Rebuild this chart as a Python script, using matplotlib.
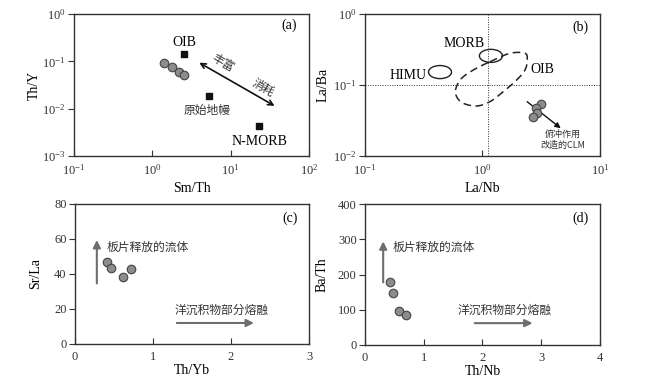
import numpy as np
import matplotlib
matplotlib.use("Agg")
import matplotlib.pyplot as plt
from matplotlib.patches import Ellipse

plt.rcParams['font.family'] = ['Liberation Serif', 'DejaVu Serif']
plt.rcParams['mathtext.fontset'] = 'stix'
CJK = ['Noto Sans CJK SC', 'DejaVu Sans']

# panel (a): Sm/Th vs Th/Y
a_smth = [1.41, 1.79, 2.19, 2.54]
a_thy = [0.092, 0.076, 0.059, 0.051]
a_ref_names = ['OIB', '原始地幔', 'N-MORB']
a_ref_x = [2.54, 5.3, 23.0]
a_ref_y = [0.143, 0.0185, 0.0043]

# panel (b): La/Nb vs La/Ba
b_lanb = [3.15, 2.85, 2.91, 2.69]
b_laba = [0.054, 0.047, 0.040, 0.035]
# OIB field outline (log10 coordinates)
oib_logx = [0.064, 0.234, 0.362, 0.381, 0.362, 0.291, 0.177, 0.064, -0.049,
            -0.163, -0.220, -0.226, -0.177, -0.078]
oib_logy = [-0.672, -0.554, -0.554, -0.648, -0.789, -0.930, -1.094, -1.235,
            -1.296, -1.258, -1.165, -1.046, -0.906, -0.789]
himu_center = (0.435, 0.152)
morb_center = (1.18, 0.257)

# panel (c): Th/Yb vs Sr/La
c_thyb = [0.41, 0.46, 0.615, 0.72]
c_srla = [46.9, 43.4, 38.3, 42.9]

# panel (d): Th/Nb vs Ba/Th
d_thnb = [0.43, 0.48, 0.58, 0.70]
d_bath = [179, 148, 96, 85]

fig = plt.figure(figsize=(6.47, 3.84), dpi=100)
ax_a = fig.add_axes([0.1144, 0.5938, 0.3632, 0.3698])
ax_b = fig.add_axes([0.5641, 0.5938, 0.3632, 0.3698])
ax_c = fig.add_axes([0.1159, 0.1042, 0.3617, 0.3646])
ax_d = fig.add_axes([0.5641, 0.1016, 0.3632, 0.3670])

edge = '#333333'
pt_kw = dict(s=38, facecolor='#8c8c8c', edgecolor='#444444', linewidths=0.8, zorder=5)


def style(ax, ylab_x):
    for sp in ax.spines.values():
        sp.set_color(edge)
        sp.set_linewidth(1.0)
    ax.tick_params(axis='x', direction='in', length=4, width=0.8, colors=edge,
                   labelsize=9, pad=5)
    ax.tick_params(axis='y', direction='out', length=4, width=0.8, colors=edge,
                   labelsize=9, pad=2)
    ax.tick_params(which='minor', length=0)
    for lab in ax.get_xticklabels() + ax.get_yticklabels():
        lab.set_color('#333333')
    ax.yaxis.set_label_coords(ylab_x, 0.5)


def smooth_closed(xs, ys, n=12):
    # Catmull-Rom closed curve through outline points
    p = np.column_stack([xs, ys])
    m = len(p)
    out = []
    for i in range(m):
        p0, p1, p2, p3 = p[i - 1], p[i], p[(i + 1) % m], p[(i + 2) % m]
        for t in np.linspace(0, 1, n, endpoint=False):
            t2, t3 = t * t, t * t * t
            out.append(0.5 * ((2 * p1) + (-p0 + p2) * t + (2 * p0 - 5 * p1 + 4 * p2 - p3) * t2
                              + (-p0 + 3 * p1 - 3 * p2 + p3) * t3))
    out.append(out[0])
    out = np.array(out)
    return out[:, 0], out[:, 1]


# ---- (a)
ax = ax_a
ax.set_xscale('log')
ax.set_yscale('log')
ax.set_xlim(0.1, 100)
ax.set_ylim(0.001, 1)
ax.scatter(a_smth, a_thy, **pt_kw)
ax.scatter(a_ref_x, a_ref_y, marker='s', s=22, color='#111111', zorder=4)
ax.text(a_ref_x[0] * 1.02, a_ref_y[0] * 1.75, a_ref_names[0], ha='center', va='center', fontsize=10)
ax.text(a_ref_x[1] * 0.93, a_ref_y[1] * 0.5, a_ref_names[1], ha='center', va='center', fontsize=8.5,
        family=CJK, color='#333333')
ax.text(a_ref_x[2], a_ref_y[2] * 0.48, a_ref_names[2], ha='center', va='center', fontsize=10)
ax.annotate('', xy=(3.7, 0.10), xytext=(39, 0.0107),
            arrowprops=dict(arrowstyle='<->', color='#111111', lw=1.2,
                            mutation_scale=9))
ax.text(8.0, 0.092, '丰富', rotation=-30, ha='center', va='center', fontsize=8.5, family=CJK,
        color='#333333')
ax.text(26, 0.028, '消耗', rotation=-30, ha='center', va='center', fontsize=8.5, family=CJK,
        color='#333333')
ax.text(0.95, 0.92, '(a)', transform=ax.transAxes, ha='right', va='center', fontsize=10)
ax.set_xlabel('Sm/Th', fontsize=10, labelpad=3)
ax.set_ylabel('Th/Y', fontsize=10)
style(ax, -0.14)

# ---- (b)
ax = ax_b
ax.set_xscale('log')
ax.set_yscale('log')
ax.set_xlim(0.1, 10)
ax.set_ylim(0.01, 1)
ax.axvline(1.11, color='#333333', lw=0.7, ls=(0, (1, 1.5)))
ax.axhline(0.1, color='#333333', lw=0.7, ls=(0, (1, 1.5)))
ox, oy = smooth_closed(oib_logx, oib_logy)
ax.plot(10 ** ox, 10 ** oy, color='#222222', lw=1.1, ls=(0, (5, 3)))
# ellipses drawn in axes fraction with log positions
for (cx, cy) in [himu_center, morb_center]:
    fx = (np.log10(cx) + 1) / 2
    fy = (np.log10(cy) + 2) / 2
    ax.add_patch(Ellipse((fx, fy), 0.098, 0.092, transform=ax.transAxes, fill=False,
                         ec='#222222', lw=1.0))
ax.text(0.337, 0.138, 'HIMU', ha='right', va='center', fontsize=10)
ax.text(1.05, 0.39, 'MORB', ha='right', va='center', fontsize=10)
ax.text(3.2, 0.165, 'OIB', ha='center', va='center', fontsize=10)
ax.scatter(b_lanb, b_laba, **pt_kw)
ax.annotate('', xy=(4.84, 0.0232), xytext=(2.30, 0.0615),
            arrowprops=dict(arrowstyle='-|>', color='#111111', lw=1.0, mutation_scale=8))
ax.text(4.85, 0.0168, '俯冲作用\n改造的CLM', ha='center', va='center', fontsize=6.5, family=CJK,
        linespacing=1.25, color='#333333')
ax.text(0.95, 0.91, '(b)', transform=ax.transAxes, ha='right', va='center', fontsize=10)
ax.set_xlabel('La/Nb', fontsize=10, labelpad=3)
ax.set_ylabel('La/Ba', fontsize=10)
style(ax, -0.15)

arrow_gray = '#6e6e6e'

# ---- (c)
ax = ax_c
ax.set_xlim(0, 3)
ax.set_ylim(0, 80)
ax.set_xticks([0, 1, 2, 3])
ax.set_yticks([0, 20, 40, 60, 80])
ax.scatter(c_thyb, c_srla, **pt_kw)
ax.annotate('', xy=(0.28, 61), xytext=(0.28, 33),
            arrowprops=dict(arrowstyle='-|>', color=arrow_gray, lw=1.5, mutation_scale=11))
ax.text(0.40, 55.5, '板片释放的流体', ha='left', va='center', fontsize=8.5, family=CJK, color='#333333')
ax.annotate('', xy=(2.33, 12), xytext=(1.27, 12),
            arrowprops=dict(arrowstyle='-|>', color=arrow_gray, lw=1.5, mutation_scale=11))
ax.text(1.28, 19.5, '洋沉积物部分熔融', ha='left', va='center', fontsize=8.5, family=CJK, color='#333333')
ax.text(0.95, 0.90, '(c)', transform=ax.transAxes, ha='right', va='center', fontsize=10)
ax.set_xlabel('Th/Yb', fontsize=10, labelpad=1)
ax.set_ylabel('Sr/La', fontsize=10)
style(ax, -0.141)

# ---- (d)
ax = ax_d
ax.set_xlim(0, 4)
ax.set_ylim(0, 400)
ax.set_xticks([0, 1, 2, 3, 4])
ax.set_yticks([0, 100, 200, 300, 400])
ax.scatter(d_thnb, d_bath, **pt_kw)
ax.annotate('', xy=(0.31, 302), xytext=(0.31, 170),
            arrowprops=dict(arrowstyle='-|>', color=arrow_gray, lw=1.5, mutation_scale=11))
ax.text(0.47, 278, '板片释放的流体', ha='left', va='center', fontsize=8.5, family=CJK, color='#333333')
ax.annotate('', xy=(2.9, 62), xytext=(1.82, 62),
            arrowprops=dict(arrowstyle='-|>', color=arrow_gray, lw=1.5, mutation_scale=11))
ax.text(1.58, 99, '洋沉积物部分熔融', ha='left', va='center', fontsize=8.5, family=CJK, color='#333333')
ax.text(0.95, 0.90, '(d)', transform=ax.transAxes, ha='right', va='center', fontsize=10)
ax.set_xlabel('Th/Nb', fontsize=10, labelpad=1)
ax.set_ylabel('Ba/Th', fontsize=10)
style(ax, -0.153)

fig.savefig('out.png', dpi=100)
